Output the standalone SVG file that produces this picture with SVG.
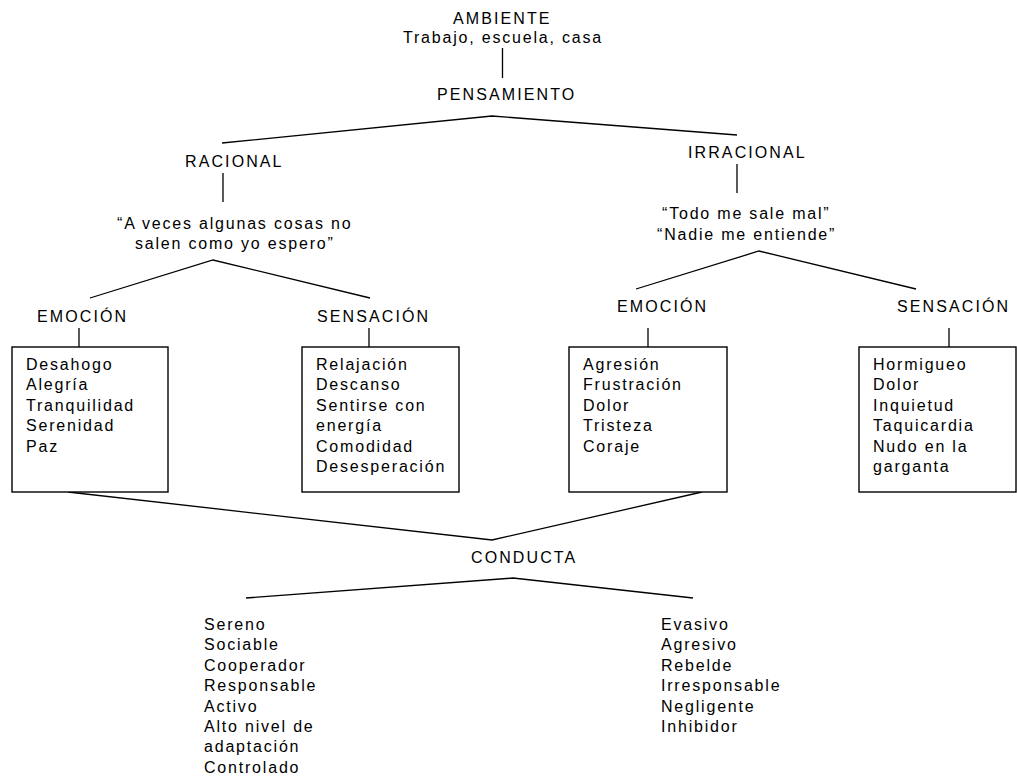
<svg xmlns="http://www.w3.org/2000/svg" width="1017" height="778" viewBox="0 0 1017 778">
<style>
text{font-family:"Liberation Sans",Arial,sans-serif;font-size:16px;fill:#000;letter-spacing:1.8px}
.cap{letter-spacing:2.1px}
.ln{stroke:#000;stroke-width:1.3;fill:none}
.box{stroke:#000;stroke-width:1.4;fill:#fff}
</style>
<rect width="1017" height="778" fill="#fff"/>
<g id="connectors" class="ln">
<line x1="502.5" y1="48" x2="502.5" y2="78"/>
<polyline points="222,143 492,116 737,135"/>
<line x1="223" y1="173" x2="223" y2="202"/>
<polyline points="90,298 213,260 370,298"/>
<line x1="737" y1="164" x2="737" y2="193"/>
<polyline points="636,289 759,251 916,289"/>
<line x1="79" y1="328" x2="79" y2="347"/>
<line x1="369" y1="328" x2="369" y2="347"/>
<line x1="648" y1="328" x2="648" y2="347"/>
<line x1="949" y1="328" x2="949" y2="347"/>
<polyline points="68,492 492,540 702,492"/>
<polyline points="246,598 513,578 693,598"/>
</g>
<g id="ambiente">
<text class="cap" x="453" y="23.5">AMBIENTE</text>
<text x="403" y="43">Trabajo, escuela, casa</text>
</g>
<g id="pensamiento"><text class="cap" x="437" y="100">PENSAMIENTO</text></g>
<g id="racional"><text class="cap" x="185" y="166.5">RACIONAL</text></g>
<g id="irracional"><text class="cap" x="688" y="158">IRRACIONAL</text></g>
<g id="pensamiento-racional">
<text x="117" y="229">“A veces algunas cosas no</text>
<text x="135" y="249">salen como yo espero”</text>
</g>
<g id="pensamiento-irracional">
<text x="662" y="219">“Todo me sale mal”</text>
<text x="657" y="240">“Nadie me entiende”</text>
</g>
<g id="emocion-racional">
<text class="cap" x="37" y="322">EMOCIÓN</text>
<rect class="box" x="12" y="347" width="156" height="145"/>
<text x="26" y="370">Desahogo</text>
<text x="26" y="390.4">Alegría</text>
<text x="26" y="410.8">Tranquilidad</text>
<text x="26" y="431.2">Serenidad</text>
<text x="26" y="451.6">Paz</text>
</g>
<g id="sensacion-racional">
<text class="cap" x="317" y="322">SENSACIÓN</text>
<rect class="box" x="302" y="347" width="157" height="145"/>
<text x="316" y="370">Relajación</text>
<text x="316" y="390.4">Descanso</text>
<text x="316" y="410.8">Sentirse con</text>
<text x="316" y="431.2">energía</text>
<text x="316" y="451.6">Comodidad</text>
<text x="316" y="472">Desesperación</text>
</g>
<g id="emocion-irracional">
<text class="cap" x="617" y="312">EMOCIÓN</text>
<rect class="box" x="569" y="347" width="158" height="145"/>
<text x="583" y="370">Agresión</text>
<text x="583" y="390.4">Frustración</text>
<text x="583" y="410.8">Dolor</text>
<text x="583" y="431.2">Tristeza</text>
<text x="583" y="451.6">Coraje</text>
</g>
<g id="sensacion-irracional">
<text class="cap" x="897" y="312">SENSACIÓN</text>
<rect class="box" x="859" y="347" width="157" height="145"/>
<text x="873" y="370">Hormigueo</text>
<text x="873" y="390.4">Dolor</text>
<text x="873" y="410.8">Inquietud</text>
<text x="873" y="431.2">Taquicardia</text>
<text x="873" y="451.6">Nudo en la</text>
<text x="873" y="472">garganta</text>
</g>
<g id="conducta"><text class="cap" x="471" y="563">CONDUCTA</text></g>
<g id="conducta-positiva">
<text x="204" y="630">Sereno</text>
<text x="204" y="650.4">Sociable</text>
<text x="204" y="670.8">Cooperador</text>
<text x="204" y="691.2">Responsable</text>
<text x="204" y="711.6">Activo</text>
<text x="204" y="732">Alto nivel de</text>
<text x="204" y="752.4">adaptación</text>
<text x="204" y="772.8">Controlado</text>
</g>
<g id="conducta-negativa">
<text x="661" y="630">Evasivo</text>
<text x="661" y="650.4">Agresivo</text>
<text x="661" y="670.8">Rebelde</text>
<text x="661" y="691.2">Irresponsable</text>
<text x="661" y="711.6">Negligente</text>
<text x="661" y="732">Inhibidor</text>
</g>
</svg>
